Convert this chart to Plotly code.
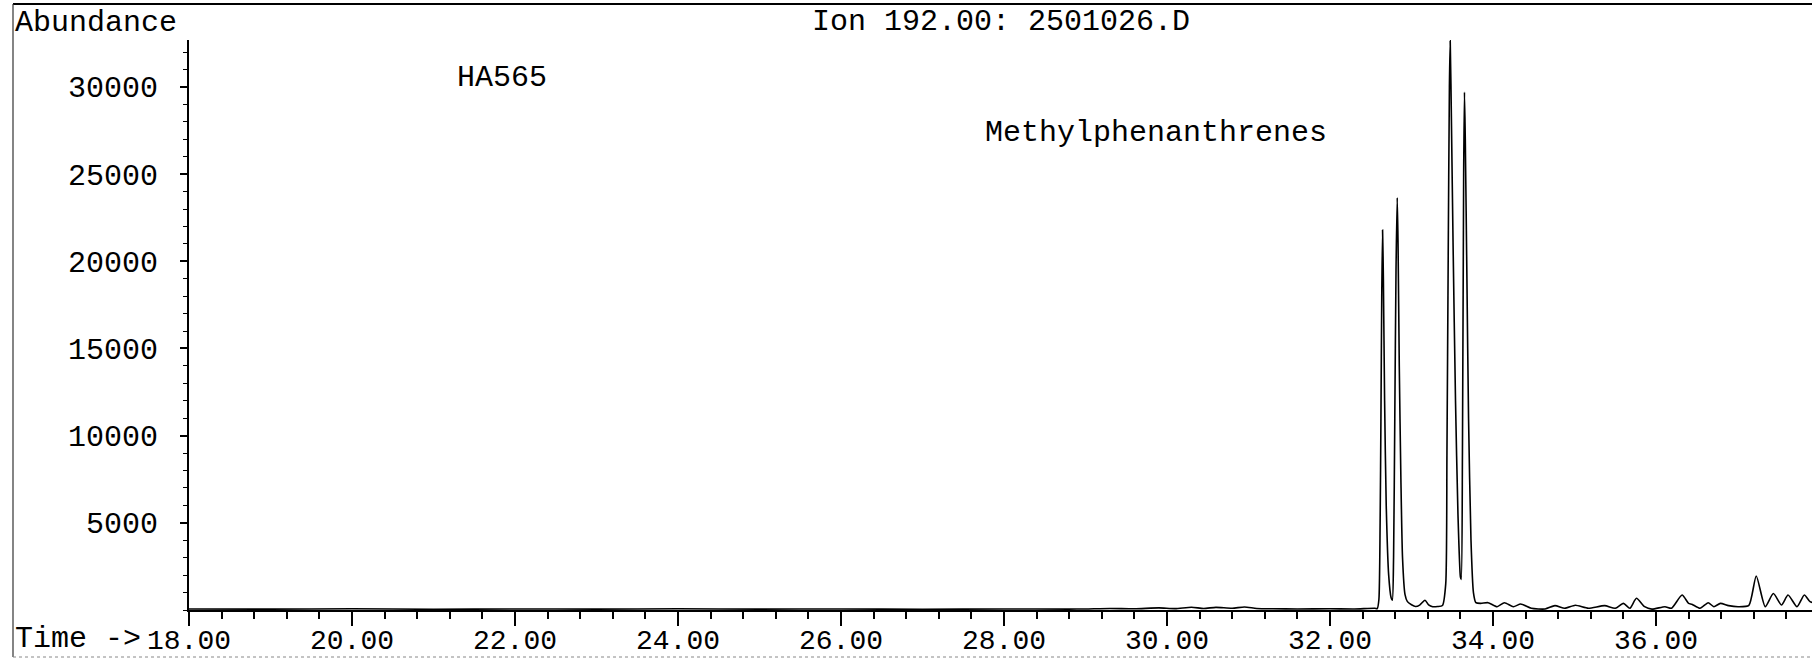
import plotly.graph_objects as go

# ion 192 trace: retention time (min) / abundance
time_min = [
    18.0, 19.0, 20.0, 21.0, 22.0, 23.0, 24.0, 25.0, 26.0, 27.0, 28.0, 28.8,
    29.0, 29.3, 29.6, 29.9, 30.1, 30.3, 30.45, 30.6, 30.8, 30.95, 31.1, 31.3,
    31.6, 32.0, 32.3, 32.55,
    32.58, 32.6, 32.615, 32.625, 32.635, 32.645, 32.655, 32.67, 32.69, 32.72,
    32.75, 32.765,
    32.78, 32.795, 32.81, 32.825, 32.835, 32.85, 32.87, 32.89, 32.92, 32.95,
    33.0, 33.05, 33.1, 33.165, 33.21, 33.26, 33.32, 33.38,
    33.42, 33.435, 33.45, 33.465, 33.475, 33.49, 33.51, 33.54, 33.57, 33.6,
    33.61, 33.625, 33.64, 33.65, 33.66, 33.68, 33.7, 33.73, 33.76, 33.79,
    33.85, 33.94, 34.05, 34.14, 34.25, 34.34, 34.47, 34.64, 34.76, 34.88,
    35.01, 35.17, 35.37, 35.5, 35.6, 35.68, 35.76, 35.86, 35.95, 36.11,
    36.19, 36.32, 36.4, 36.44, 36.54, 36.64, 36.71, 36.79, 36.89, 37.01,
    37.14, 37.23, 37.34, 37.44, 37.54, 37.62, 37.73, 37.82, 37.89, 37.95,
]
abundance = [
    60, 50, 70, 40, 60, 50, 70, 50, 60, 40, 60, 50,
    60, 90, 70, 120, 80, 160, 90, 150, 100, 170, 90, 70,
    60, 70, 60, 100,
    80, 600, 5000, 11000, 18000, 21800, 19000, 12000, 6000, 2000,
    700, 560,
    3000, 11000, 19500, 23650, 21000, 14000, 7500, 3000, 900, 480,
    300, 200, 280, 560, 300, 190, 200, 260,
    1500, 9000, 20000, 30000, 32650, 28000, 21000, 12000, 5500, 1900,
    1750, 9000, 25000, 29700, 27000, 19000, 11000, 4000, 1000, 420,
    380, 420, 190, 420, 190, 345, 100, 60, 250, 100,
    270, 100, 250, 100, 380, 100, 670, 190, 50, 190,
    100, 860, 380, 330, 100, 420, 190, 380, 250, 190,
    270, 1950, 190, 950, 290, 860, 190, 860, 480, 400,
]

x_ticks = [18, 20, 22, 24, 26, 28, 30, 32, 34, 36]
y_ticks = [5000, 10000, 15000, 20000, 25000, 30000]

W, H = 1812, 659
L, R, T, B = 189, 0, 40, 49
PW, PH = W - L - R, H - T - B
FONT = "Courier New, Liberation Mono, monospace"


def px(x):
    return (x - L) / PW


def py(y):
    return (H - B - y) / PH


fig = go.Figure()
fig.add_trace(go.Scatter(
    x=time_min, y=abundance, mode="lines",
    line=dict(color="black", width=1.6, shape="spline", smoothing=0.6),
    hoverinfo="x+y", showlegend=False,
))

fig.update_layout(
    width=W, height=H,
    margin=dict(l=L, r=R, t=T, b=B, pad=0),
    plot_bgcolor="white", paper_bgcolor="white",
    font=dict(family=FONT, size=30, color="black"),
    xaxis=dict(
        range=[18, 18 + PW / 81.5],
        tickvals=x_ticks, tickformat=".2f",
        ticks="outside", ticklen=14, tickwidth=2, tickcolor="black",
        minor=dict(tick0=18, dtick=0.4, ticks="outside", ticklen=7,
                   tickwidth=1.5, tickcolor="black"),
        showline=True, linecolor="black", linewidth=2,
        showgrid=False, zeroline=False, automargin=False,
        ticklabelstandoff=-11,
        tickfont=dict(size=28),
    ),
    yaxis=dict(
        range=[0, PH * 57.36],
        tickvals=y_ticks, tickformat="d",
        ticks="outside", ticklen=7, tickwidth=1.5, tickcolor="black",
        minor=dict(tick0=0, dtick=1000, ticks="outside", ticklen=4,
                   tickwidth=1, tickcolor="black"),
        showline=True, linecolor="black", linewidth=2,
        showgrid=False, zeroline=False, automargin=False,
        ticklabelstandoff=16,
        tickfont=dict(size=30),
    ),
)

# printout frame
fig.add_shape(type="line", xref="paper", yref="paper",
              x0=px(13), x1=px(W), y0=py(4), y1=py(4),
              line=dict(color="black", width=2))
fig.add_shape(type="line", xref="paper", yref="paper",
              x0=px(13), x1=px(13), y0=py(4), y1=py(657),
              line=dict(color="#333", width=1.2))
fig.add_shape(type="line", xref="paper", yref="paper",
              x0=px(13), x1=px(W), y0=py(657), y1=py(657),
              line=dict(color="#888", width=1, dash="dot"))

texts = [
    ("Abundance", 13, 23, "left"),
    ("Ion 192.00: 2501026.D", 1001, 22, "center"),
    ("HA565", 455, 78, "left"),
    ("Methylphenanthrenes", 983, 133, "left"),
    ("Time ->", 13, 639, "left"),
]
for txt, x, y, anchor in texts:
    fig.add_annotation(
        text=txt, xref="paper", yref="paper", x=px(x), y=py(y),
        xanchor=anchor, yanchor="middle", showarrow=False,
        font=dict(family=FONT, size=30, color="black"),
    )

# drop the page's default body margin so the figure sits at the window origin
fig.write_html("out.html",
               config={"displayModeBar": False},
               post_script="document.body.style.margin='0';"
                           "document.body.style.overflow='hidden';")
